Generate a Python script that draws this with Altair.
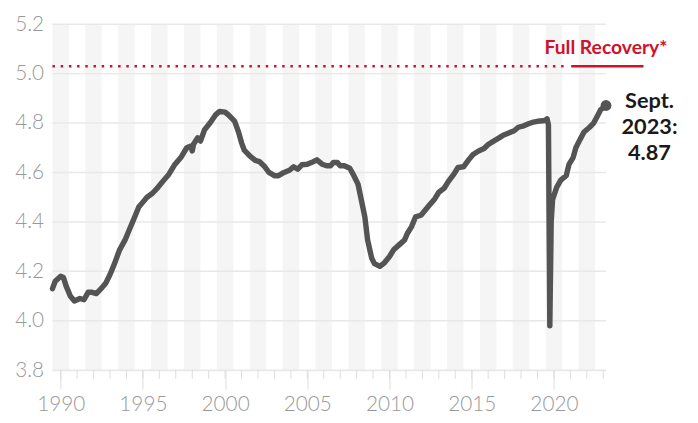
import altair as alt
import pandas as pd

# ---- data ----
dates = [
    "1990-01", "1990-03", "1990-07", "1990-09", "1990-11", "1991-02", "1991-05", "1991-09", "1991-12",
    "1992-03", "1992-06", "1992-09", "1993-01", "1993-04", "1993-07", "1993-10", "1994-02", "1994-06",
    "1994-09", "1995-01", "1995-04", "1995-07", "1995-10", "1996-02", "1996-06", "1996-10", "1997-02",
    "1997-06", "1997-11", "1998-03", "1998-06", "1998-07", "1998-08", "1998-11", "1999-01", "1999-04",
    "1999-08", "1999-12", "2000-03", "2000-07", "2000-10", "2001-02", "2001-05", "2001-07", "2001-09",
    "2002-01", "2002-05", "2002-08", "2002-12", "2003-03", "2003-07", "2003-10", "2004-02", "2004-06",
    "2004-09", "2004-12", "2005-03", "2005-07", "2005-10", "2006-02", "2006-06", "2006-09", "2006-12",
    "2007-02", "2007-05", "2007-07", "2007-10", "2008-02", "2008-05", "2008-08", "2008-10", "2009-01",
    "2009-03", "2009-06", "2009-08", "2009-12", "2010-03", "2010-07", "2010-10", "2011-02", "2011-06",
    "2011-08", "2011-11", "2012-02", "2012-06", "2012-09", "2012-12", "2013-04", "2013-07", "2013-11",
    "2014-02", "2014-06", "2014-09", "2015-01", "2015-05", "2015-08", "2015-12", "2016-04", "2016-07",
    "2016-11", "2017-03", "2017-06", "2017-10", "2018-02", "2018-05", "2018-09", "2018-12", "2019-04",
    "2019-07", "2019-11", "2020-01", "2020-02", "2020-03", "2020-04", "2020-05", "2020-06", "2020-09",
    "2020-12", "2021-04", "2021-06", "2021-09", "2021-11", "2022-02", "2022-05", "2022-09", "2022-12",
    "2023-03", "2023-05", "2023-09",
]
values = [
    4.13, 4.16, 4.18, 4.175, 4.14, 4.10, 4.08, 4.09, 4.085,
    4.115, 4.115, 4.11, 4.133, 4.153, 4.187, 4.227, 4.287, 4.327,
    4.367, 4.42, 4.46, 4.48, 4.50, 4.516, 4.54, 4.567, 4.593,
    4.63, 4.663, 4.70, 4.707, 4.687, 4.715, 4.74, 4.727, 4.773,
    4.80, 4.833, 4.847, 4.844, 4.83, 4.807, 4.76, 4.72, 4.69,
    4.667, 4.649, 4.644, 4.623, 4.60, 4.587, 4.587, 4.60, 4.609,
    4.623, 4.613, 4.631, 4.633, 4.64, 4.651, 4.633, 4.627, 4.627,
    4.64, 4.64, 4.627, 4.627, 4.617, 4.587, 4.553, 4.50, 4.42,
    4.327, 4.253, 4.231, 4.22, 4.233, 4.26, 4.287, 4.307, 4.327,
    4.353, 4.38, 4.42, 4.427, 4.447, 4.467, 4.493, 4.52, 4.537,
    4.564, 4.593, 4.62, 4.623, 4.653, 4.673, 4.687, 4.697, 4.713,
    4.727, 4.74, 4.751, 4.76, 4.769, 4.783, 4.789, 4.796, 4.804,
    4.807, 4.809, 4.812, 4.817, 4.793, 3.98, 4.40, 4.49, 4.54,
    4.569, 4.587, 4.633, 4.66, 4.70, 4.733, 4.764, 4.783, 4.80,
    4.831, 4.853, 4.871,
]
y_ticks = [3.8, 4.0, 4.2, 4.4, 4.6, 4.8, 5.0, 5.2]
label_years = [1990, 1995, 2000, 2005, 2010, 2015, 2020]
tick_years = list(range(1990, 2024))
band_years = list(range(1990, 2023, 2))
recovery_level = 5.03
recovery_text = "Full Recovery*"
end_label = ["Sept.", "2023:", "4.87"]

# ---- build tables ----
df = pd.DataFrame({"date": dates, "value": values})
df["t"] = df["date"].str[:4].astype(int) + (df["date"].str[5:7].astype(int) - 1) / 12.0

T0 = float(df["t"].iloc[0])
T1 = float(df["t"].iloc[-1])
YMIN, YMAX = y_ticks[0], y_ticks[-1]

bands = pd.DataFrame({
    "start": band_years,
    "end": [min(y + 1, T1) for y in band_years],
    "top": YMAX,
    "bottom": YMIN,
})
grid = pd.DataFrame({"v": y_ticks})
minor = pd.DataFrame({"t": [y + 0.5 for y in tick_years]})
dotted = pd.DataFrame({"x": [T0], "x2": [2021.3], "y": [recovery_level]})
solid = pd.DataFrame({"x": [2021.55], "x2": [2025.95], "y": [recovery_level]})
rec_txt = pd.DataFrame({"x": [T1], "y": [recovery_level], "label": [recovery_text]})
last = df.tail(1).copy()
last["label"] = [end_label]

W, H = 560, 350
RED = "#d0112b"
LINE = "#545454"

xs = alt.Scale(domain=[T0, T1], nice=False, zero=False)
ys = alt.Scale(domain=[YMIN, YMAX], nice=False, zero=False)

band_layer = alt.Chart(bands).mark_rect(color="#f5f5f5").encode(
    x=alt.X("start:Q", scale=xs), x2="end:Q",
    y=alt.Y("top:Q", scale=ys), y2="bottom:Q",
)

grid_layer = alt.Chart(grid).mark_rule(color="#e8e8e8", strokeWidth=1.5).encode(
    y=alt.Y("v:Q", scale=ys)
)

minor_layer = alt.Chart(minor).mark_rule(color="#dddddd", strokeWidth=1).encode(
    x=alt.X("t:Q", scale=xs), y=alt.value(H), y2=alt.value(H + 9)
)

line_layer = alt.Chart(df).mark_line(
    color=LINE, strokeWidth=5.5, strokeCap="round", strokeJoin="round"
).encode(
    x=alt.X("t:Q", scale=xs, title=None, axis=alt.Axis(
        values=[y + 0.5 for y in label_years],
        labelExpr="toString(floor(datum.value))",
        tickSize=19, tickColor="#dddddd", domainColor="#dddddd", tickWidth=1,
        labelFontSize=21, labelColor="#999999", labelPadding=5, labelFontWeight=300,
        grid=False, labelFlush=False,
    )),
    y=alt.Y("value:Q", scale=ys, title=None, axis=alt.Axis(
        values=y_ticks, format=".1f", tickSize=0, domain=False, grid=False,
        labelFontSize=21, labelColor="#999999", labelPadding=9, labelFontWeight=300,
    )),
)

dotted_layer = alt.Chart(dotted).mark_rule(
    color=RED, strokeWidth=2.5, strokeDash=[2.5, 5.8]
).encode(x=alt.X("x:Q", scale=xs), x2="x2:Q", y=alt.Y("y:Q", scale=ys))

solid_layer = alt.Chart(solid).mark_rule(color=RED, strokeWidth=2.5).encode(
    x=alt.X("x:Q", scale=xs), x2="x2:Q", y=alt.Y("y:Q", scale=ys)
)

rec_text_layer = alt.Chart(rec_txt).mark_text(
    color=RED, fontSize=19.5, fontWeight="bold", align="center", baseline="middle", dy=-18
).encode(x=alt.X("x:Q", scale=xs), y=alt.Y("y:Q", scale=ys), text="label:N")

dot_layer = alt.Chart(last).mark_circle(color=LINE, size=120, opacity=1).encode(
    x=alt.X("t:Q", scale=xs), y=alt.Y("value:Q", scale=ys)
)

end_text_layer = alt.Chart(last).mark_text(
    color="#1a1a1a", fontSize=22, fontWeight="bold", align="center", baseline="top",
    dx=44, dy=-14, lineHeight=26,
).encode(x=alt.X("t:Q", scale=xs), y=alt.Y("value:Q", scale=ys), text="label")

chart = alt.layer(
    band_layer, grid_layer, minor_layer, line_layer, dotted_layer, solid_layer,
    rec_text_layer, dot_layer, end_text_layer,
).properties(
    width=W, height=H,
    autosize=alt.AutoSizeParams(type="none"),
    padding={"left": 45, "top": 14, "right": 85, "bottom": 45},
).configure(font="Lato").configure_view(stroke=None)

chart.save("out.html", embed_options={"renderer": "svg", "actions": False})
